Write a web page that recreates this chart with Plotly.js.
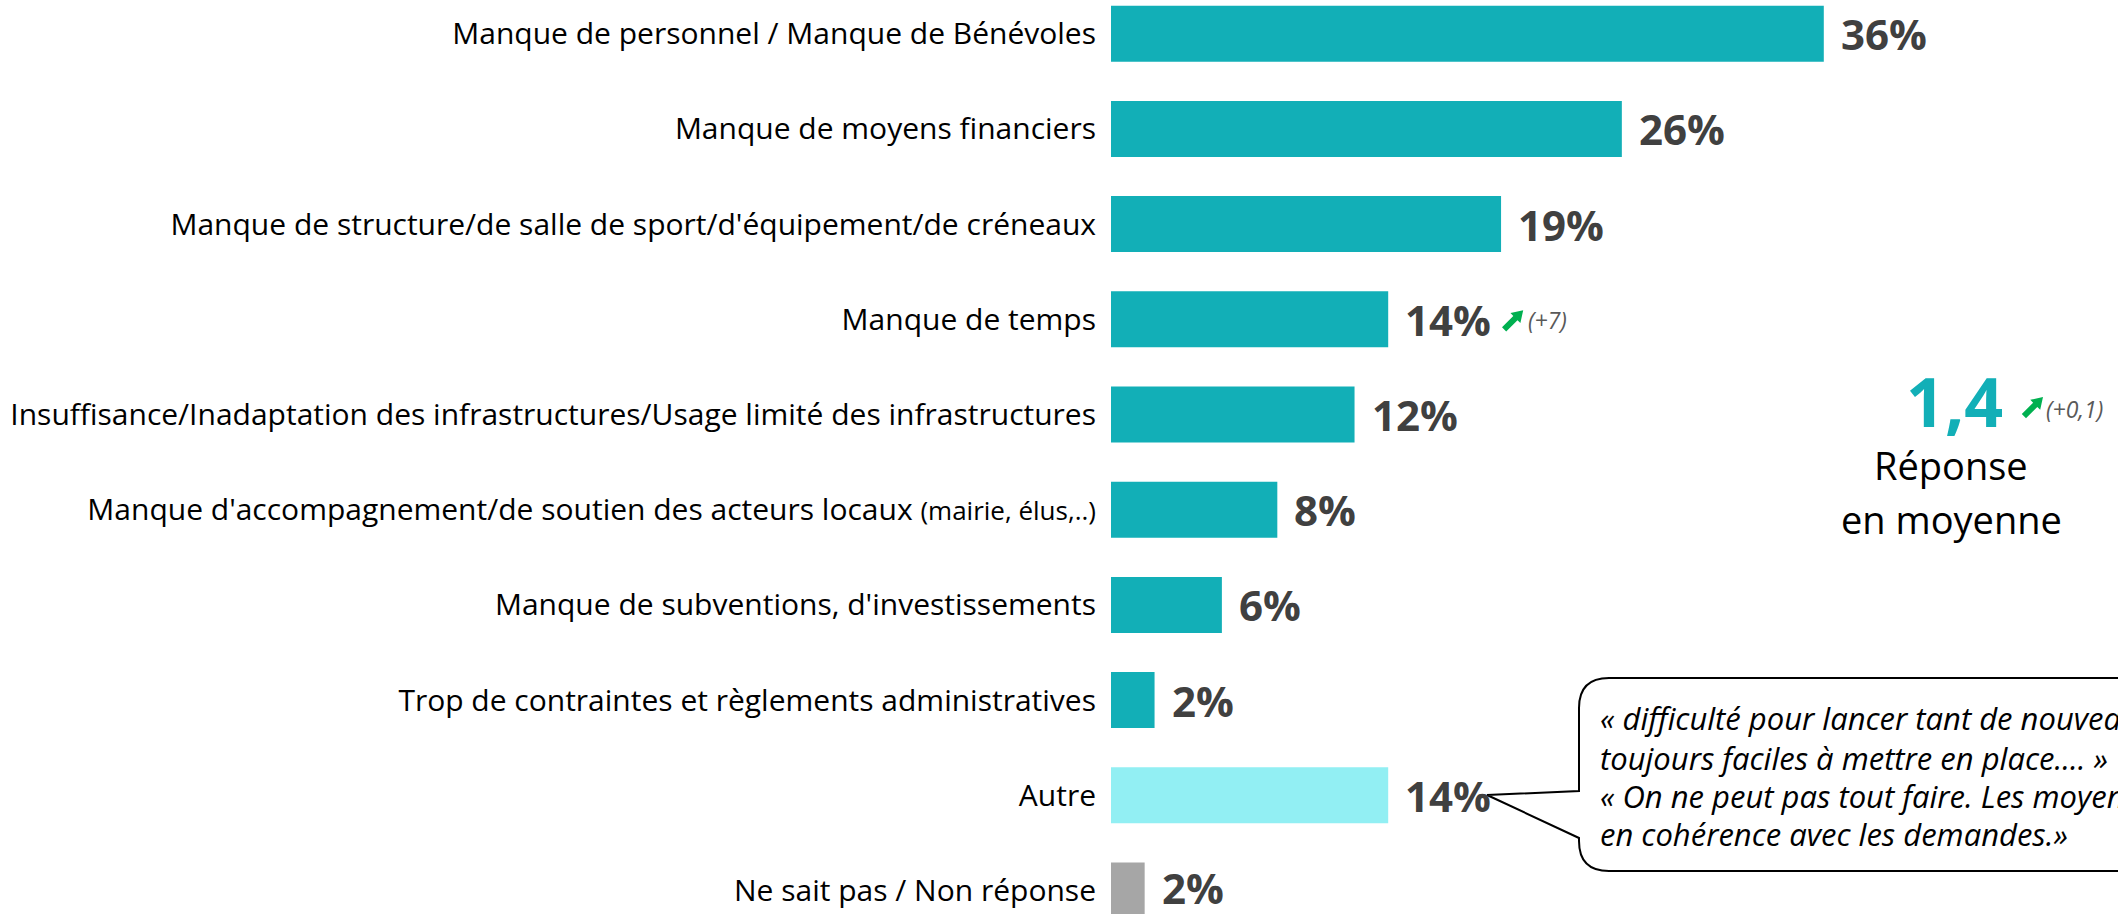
<!DOCTYPE html>
<html>
<head>
<meta charset="utf-8">
<script src="https://cdn.plot.ly/plotly-3.0.1.min.js"></script>
<style>
  html, body { margin: 0; padding: 0; background: #ffffff; }
  #chart { width: 2118px; height: 914px; }
</style>
</head>
<body>
<div id="chart"></div>
<script>
// ---------- DATA ----------
const categories = [
  "Manque de personnel / Manque de Bénévoles",
  "Manque de moyens financiers",
  "Manque de structure/de salle de sport/d'équipement/de créneaux",
  "Manque de temps",
  "Insuffisance/Inadaptation des infrastructures/Usage limité des infrastructures",
  "Manque d'accompagnement/de soutien des acteurs locaux <span style='font-size:26px'>(mairie, élus,..)</span>",
  "Manque de subventions, d'investissements",
  "Trop de contraintes et règlements administratives",
  "Autre",
  "Ne sait pas / Non réponse"
];
const values = [36, 25.8, 19.7, 14, 12.3, 8.4, 5.6, 2.2, 14, 1.7];
const valueLabels = ["36%", "26%", "19%", "14%", "12%", "8%", "6%", "2%", "14%", "2%"];
const trendLabels = ["", "", "", "(+7)", "", "", "", "", "", ""];
const averageValue = "1,4";
const averageTrend = "(+0,1)";
const averageCaption = ["Réponse", "en moyenne"];
const quoteLines = [
  "« difficulté pour lancer tant de nouveaux",
  "toujours faciles à mettre en place.... »",
  "« On ne peut pas tout faire. Les moyens",
  "en cohérence avec les demandes.»"
];

// ---------- STYLE ----------
const TEAL = "#12AFB7";
const GREEN = "#00B050";
const barColors = [TEAL, TEAL, TEAL, TEAL, TEAL, TEAL, TEAL, TEAL, "#92EFF3", "#A6A6A6"];
const FONT = "'Segoe UI', 'Open Sans', 'Noto Sans', sans-serif";
const W = 2118, H = 914, L = 1111;
const PW = W - L;
const pxPerUnit = 19.8;
const px = x => (x - L) / PW;
const py = y => 1 - y / H;
const P = (x, y) => px(x) + "," + py(y);

// band geometry (pixels) used only to place decorations
const ROW0 = 33.7, PITCH = 95.2;

const trace = {
  type: "bar",
  orientation: "h",
  y: categories,
  x: values,
  marker: { color: barColors, line: { width: 0 } },
  hoverinfo: "skip",
  cliponaxis: false
};

// green north-east arrow polygon, tip at (tx, ty) in pixels
const arrowOffsets = [[0,0],[-2.8,12.7],[-5.7,9.9],[-17,21.2],[-21.2,17],[-9.9,5.7],[-12.7,2.8]];
function arrowShape(tx, ty) {
  const pts = arrowOffsets.map(o => P(tx + o[0], ty + o[1]));
  return {
    type: "path", xref: "paper", yref: "paper",
    path: "M" + pts.join(" L") + " Z",
    fillcolor: GREEN, line: { width: 0 }, layer: "above"
  };
}

const annotations = [];
const shapes = [];
// value labels
categories.forEach((c, i) => {
  annotations.push({
    x: values[i], y: c, xref: "x", yref: "y",
    text: valueLabels[i], showarrow: false,
    xanchor: "left", yanchor: "middle", xshift: 16,
    yshift: i === categories.length - 1 ? 3 : 0,
    borderpad: 0,
    font: { family: FONT, size: 42, color: "#404040", weight: 700 }
  });
});
// trend markers next to value labels
categories.forEach((c, i) => {
  if (!trendLabels[i]) return;
  const endPx = L + values[i] * pxPerUnit;
  const rowY = ROW0 + i * PITCH;
  shapes.push(arrowShape(endPx + 135, rowY - 9));
  annotations.push({
    x: values[i], y: c, xref: "x", yref: "y",
    text: "<i>" + trendLabels[i] + "</i>", showarrow: false,
    xanchor: "left", yanchor: "middle", xshift: 138, yshift: -1,
    font: { family: FONT, size: 23, color: "#595959" }
  });
});
// average block
annotations.push({
  x: px(1954), y: py(400), xref: "paper", yref: "paper",
  text: "<b>" + averageValue + "</b>", showarrow: false,
  xanchor: "center", yanchor: "middle", borderpad: 0,
  font: { family: FONT, size: 68, color: TEAL }
});
shapes.push(arrowShape(2043, 397));
annotations.push({
  x: px(2044), y: py(409), xref: "paper", yref: "paper",
  text: "<i>" + averageTrend + "</i>", showarrow: false,
  xanchor: "left", yanchor: "middle",
  font: { family: FONT, size: 23, color: "#595959" }
});
annotations.push({
  x: px(1951), y: py(465), xref: "paper", yref: "paper",
  text: averageCaption[0], showarrow: false, xanchor: "center", yanchor: "middle", borderpad: 0,
  font: { family: FONT, size: 38, color: "#000000" }
});
annotations.push({
  x: px(1951), y: py(519), xref: "paper", yref: "paper",
  text: averageCaption[1], showarrow: false, xanchor: "center", yanchor: "middle", borderpad: 0,
  font: { family: FONT, size: 38, color: "#000000" }
});
// quote lines
const quoteCenters = [718, 758, 796, 834];
quoteLines.forEach((t, i) => {
  annotations.push({
    x: px(1598), y: py(quoteCenters[i]), xref: "paper", yref: "paper",
    text: "<i>" + t + "</i>", showarrow: false, xanchor: "left", yanchor: "middle",
    font: { family: FONT, size: 31, color: "#000000" }
  });
});

// speech bubble shape
const bx = 1579, btop = 678, bbot = 871, r = 30, bright = 2200;
const bubblePath =
  "M" + P(bx, 791) +
  " L" + P(bx, btop + r) +
  " Q" + P(bx, btop) + " " + P(bx + r, btop) +
  " L" + P(bright, btop) +
  " L" + P(bright, bbot) +
  " L" + P(bx + r, bbot) +
  " Q" + P(bx, bbot) + " " + P(bx, bbot - r) +
  " L" + P(bx, 838) +
  " L" + P(1487, 795) + " Z";
shapes.unshift({
  type: "path", xref: "paper", yref: "paper",
  path: bubblePath,
  line: { color: "#000000", width: 2 },
  fillcolor: "#ffffff", layer: "above"
});

const layout = {
  width: W, height: H,
  margin: { l: L, r: 0, t: 0, b: 0, pad: 0 },
  paper_bgcolor: "#ffffff", plot_bgcolor: "#ffffff",
  showlegend: false,
  bargap: 0.412,
  xaxis: {
    range: [0, PW / pxPerUnit],
    visible: false, fixedrange: true
  },
  yaxis: {
    type: "category",
    range: [9.247, -0.354],
    showgrid: false, zeroline: false, showline: false,
    ticks: "", ticklabelstandoff: 14,
    tickfont: { family: FONT, size: 30, color: "#000000" },
    automargin: false, fixedrange: true
  },
  shapes: shapes,
  annotations: annotations
};

Plotly.newPlot("chart", [trace], layout, { displayModeBar: false, staticPlot: true });
</script>
</body>
</html>
